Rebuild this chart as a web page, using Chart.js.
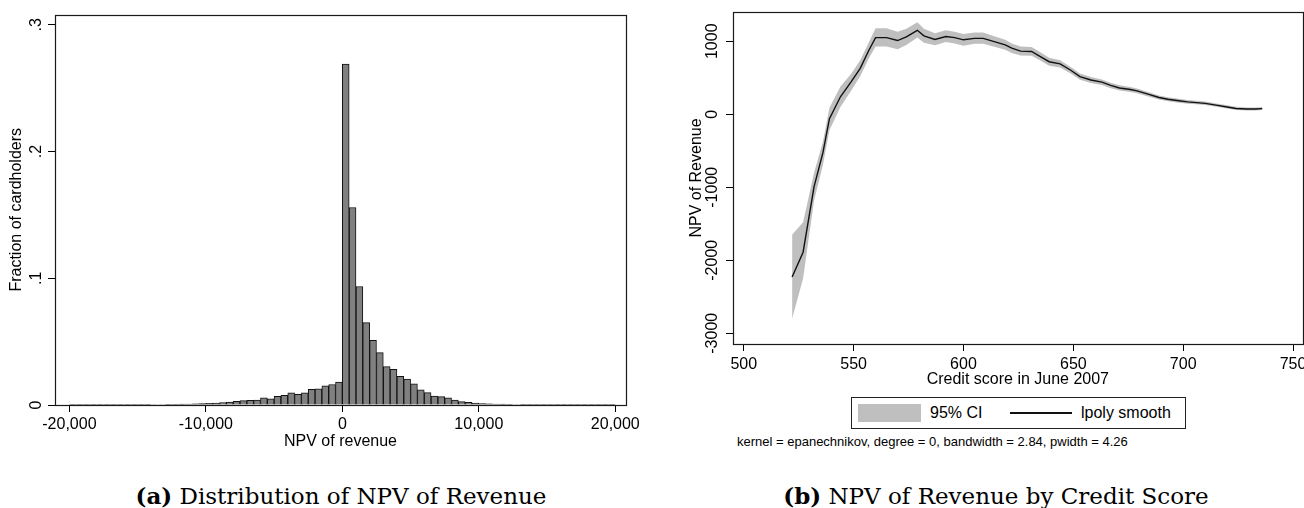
<!DOCTYPE html>
<html>
<head>
<meta charset="utf-8">
<script src="https://cdn.jsdelivr.net/npm/chart.js@4.4.1/dist/chart.umd.min.js"></script>
<style>
  body { margin: 0; width: 1304px; height: 508px; overflow: hidden; background: #fff; position: relative; font-family: 'Liberation Sans', Arial, sans-serif; color: #000; }
  canvas { position: absolute; top: 0; }
  #histCanvas { left: 0; }
  #smoothCanvas { left: 660px; }
  .caption { position: absolute; top: 484px; font-family: 'DejaVu Serif', serif; font-size: 23px; line-height: 24px; white-space: nowrap; transform: translateX(-50%); }
  #legend { position: absolute; left: 851px; top: 397px; width: 335px; height: 32px; box-sizing: border-box; border: 1.5px solid #222; }
  #legend .swatch { position: absolute; left: 6px; top: 6px; width: 63px; height: 18px; background: rgb(191,191,191); }
  #legend .line { position: absolute; left: 158px; top: 14px; width: 62px; height: 1.5px; background: #111; }
  #legend .lbl { position: absolute; top: 6px; font-size: 16px; line-height: 18px; }
  #note { position: absolute; left: 737px; top: 434px; font-size: 13px; line-height: 15px; white-space: nowrap; }
</style>
</head>
<body>
<canvas id="histCanvas" width="652" height="460"></canvas>
<canvas id="smoothCanvas" width="700" height="395"></canvas>

<div id="legend">
  <span class="swatch"></span><span class="lbl" style="left:78px">95% CI</span>
  <span class="line"></span><span class="lbl" style="left:229px">lpoly smooth</span>
</div>
<div id="note">kernel = epanechnikov, degree = 0, bandwidth = 2.84, pwidth = 4.26</div>

<div class="caption" style="left:341px"><b>(a)</b> Distribution of NPV of Revenue</div>
<div class="caption" style="left:996px"><b>(b)</b> NPV of Revenue by Credit Score</div>

<script>
// ヒストグラム: 各ビンの下端 (幅 500)
const binWidth = 500;
const binLow = [
  -20000, -19500, -19000, -18500, -18000, -17500, -17000, -16500, -16000, -15500,
  -15000, -14500, -14000, -13500, -13000, -12500, -12000, -11500, -11000, -10500,
  -10000, -9500, -9000, -8500, -8000, -7500, -7000, -6500, -6000, -5500,
  -5000, -4500, -4000, -3500, -3000, -2500, -2000, -1500, -1000, -500,
  0, 500, 1000, 1500, 2000, 2500, 3000, 3500, 4000, 4500,
  5000, 5500, 6000, 6500, 7000, 7500, 8000, 8500, 9000, 9500,
  10000, 10500, 11000, 11500, 12000, 12500, 13000, 13500, 14000, 14500,
  15000, 15500, 16000, 16500, 17000, 17500, 18000, 18500, 19000, 19500
];
const fraction = [
  0.0001, 0.0001, 0.0001, 0.0001, 0.0001, 0.0001, 0.0001, 0.0001, 0.0002, 0.0002,
  0.0003, 0.0003, 0.0004, 0.0004, 0.0005, 0.0006, 0.0007, 0.0008, 0.0009, 0.0011,
  0.0013, 0.0015, 0.0020, 0.0023, 0.0029, 0.0034, 0.0036, 0.0039, 0.0057, 0.0049,
  0.0068, 0.0076, 0.0096, 0.0084, 0.0096, 0.0123, 0.0128, 0.0151, 0.0162, 0.0180,
  0.2690, 0.1558, 0.0935, 0.0650, 0.0510, 0.0413, 0.0303, 0.0282, 0.0227, 0.0204,
  0.0167, 0.0120, 0.0097, 0.0071, 0.0066, 0.0057, 0.0038, 0.0027, 0.0021, 0.0015,
  0.0012, 0.0010, 0.0008, 0.0007, 0.0005, 0.0004, 0.0003, 0.0003, 0.0002, 0.0002,
  0.0001, 0.0001, 0.0001, 0.0001, 0.0001, 0.0001, 0.0001, 0.0001, 0.0001, 0.0001
];
const histXTicks = [-20000, -10000, 0, 10000, 20000];
const histYTicks = [0, 0.1, 0.2, 0.3];

// 信用スコア別 NPV (lpoly smooth と 95% CI)
const score = [
  522, 527, 532, 536, 539, 544, 549, 553, 557, 560,
  565, 570, 574, 579, 582, 587, 592, 596, 600, 605,
  609, 614, 619, 622, 626, 631, 635, 639, 644, 649,
  653, 658, 663, 667, 671, 676, 679, 684, 689, 693,
  698, 702, 706, 710, 715, 720, 724, 729, 733, 736
];
const npv = [
  -2230, -1890, -990, -530, -60, 240, 450, 630, 880, 1050,
  1050, 1010, 1060, 1150, 1075, 1025, 1065, 1050, 1020, 1040,
  1040, 995, 950, 905, 865, 860, 790, 720, 690, 600,
  515, 470, 440, 395, 360, 340, 320, 275, 230, 205,
  185, 170, 160, 150, 125, 100, 80, 72, 72, 78
];
const ciHigh = [
  -1650, -1480, -800, -380, 90, 380, 560, 740, 990, 1180,
  1180, 1130, 1170, 1260, 1170, 1110, 1150, 1130, 1100, 1120,
  1120, 1070, 1020, 970, 930, 920, 850, 775, 740, 645,
  560, 510, 478, 432, 396, 374, 352, 305, 258, 233,
  212, 194, 184, 174, 146, 122, 102, 92, 92, 98
];
const ciLow = [
  -2800, -2250, -1180, -700, -220, 100, 330, 520, 770, 930,
  930, 890, 950, 1050, 980, 945, 990, 970, 940, 965,
  965, 925, 885, 840, 805, 800, 735, 665, 640, 555,
  472, 430, 402, 358, 326, 306, 288, 245, 202, 177,
  158, 144, 136, 128, 104, 78, 60, 52, 52, 58
];
const scoreTicks = [500, 550, 600, 650, 700, 750];
const npvTicks = [-3000, -2000, -1000, 0, 1000];

Chart.defaults.font.family = "'Liberation Sans', Arial, sans-serif";
Chart.defaults.font.size = 16;
Chart.defaults.color = '#000';

// プロット領域の枠線
const framePlugin = {
  id: 'frame',
  afterDraw(chart) {
    const { ctx, chartArea: a } = chart;
    ctx.save();
    ctx.strokeStyle = '#1a1a1a';
    ctx.lineWidth = 1.2;
    ctx.strokeRect(Math.round(a.left) + 0.5, Math.round(a.top) + 0.5,
      Math.round(a.right - a.left), Math.round(a.bottom - a.top));
    ctx.restore();
  }
};

const tickGrid = { drawOnChartArea: false, tickLength: 7, color: '#000', lineWidth: 1, offset: false };

// 左: NPV of revenue のヒストグラム
new Chart( document.getElementById( 'histCanvas' ), {
  type: 'bar',
  data: {
    datasets: [{
      data: binLow.map( ( b, i ) => ( { x: b + binWidth / 2, y: fraction[i] } ) ),
      backgroundColor: 'rgb(128,128,128)',
      borderColor: '#111',
      borderWidth: 1,
      barPercentage: 1,
      categoryPercentage: 1
    }]
  },
  options: {
    responsive: false,
    animation: false,
    layout: { padding: { left: 0, right: 26, top: 12, bottom: 9 } },
    plugins: { legend: { display: false }, tooltip: { enabled: false } },
    scales: {
      x: {
        type: 'linear', min: -21055, max: 20784, offset: false,
        afterBuildTicks: s => { s.ticks = histXTicks.map( v => ( { value: v } ) ); },
        afterFit: s => { s.height = 46; },
        grid: tickGrid,
        border: { display: false },
        ticks: { padding: 3, maxRotation: 0, callback: v => Number( v ).toLocaleString( 'en-US' ) },
        title: { display: true, text: 'NPV of revenue', padding: { top: 0, bottom: 0 } }
      },
      y: {
        min: 0, max: 0.308,
        afterBuildTicks: s => { s.ticks = histYTicks.map( v => ( { value: v } ) ); },
        afterFit: s => { s.width = 55; },
        grid: tickGrid,
        border: { display: false },
        ticks: { minRotation: 90, maxRotation: 90, crossAlign: 'center', padding: 5,
          callback: v => v === 0 ? '0' : v.toFixed( 1 ).replace( /^0/, '' ) },
        title: { display: true, text: 'Fraction of cardholders', padding: { top: 7, bottom: 0 } }
      }
    }
  },
  plugins: [framePlugin]
});

// 右: 信用スコア別の NPV
new Chart( document.getElementById( 'smoothCanvas' ), {
  type: 'line',
  data: {
    datasets: [
      {
        label: 'lpoly smooth',
        data: score.map( ( s, i ) => ( { x: s, y: npv[i] } ) ),
        borderColor: '#111', borderWidth: 1.4, pointRadius: 0, fill: false, tension: 0
      },
      {
        label: '95% CI',
        data: score.map( ( s, i ) => ( { x: s, y: ciHigh[i] } ) ),
        borderWidth: 0, pointRadius: 0, backgroundColor: 'rgb(191,191,191)', fill: '+1', tension: 0
      },
      {
        label: 'ci low',
        data: score.map( ( s, i ) => ( { x: s, y: ciLow[i] } ) ),
        borderWidth: 0, pointRadius: 0, fill: false, tension: 0
      }
    ]
  },
  options: {
    responsive: false,
    animation: false,
    layout: { padding: { left: 0, right: 57.3, top: 12, bottom: 4 } },
    plugins: { legend: { display: false }, tooltip: { enabled: false } },
    scales: {
      x: {
        type: 'linear', min: 495.1, max: 754.4,
        afterBuildTicks: s => { s.ticks = scoreTicks.map( v => ( { value: v } ) ); },
        afterFit: s => { s.height = 47; },
        grid: tickGrid,
        border: { display: false },
        ticks: { padding: 4, maxRotation: 0, callback: v => String( v ) },
        title: { display: true, text: 'Credit score in June 2007', padding: { top: 0, bottom: 2 } }
      },
      y: {
        type: 'linear', min: -3147, max: 1401,
        afterBuildTicks: s => { s.ticks = npvTicks.map( v => ( { value: v } ) ); },
        afterFit: s => { s.width = 73; },
        grid: tickGrid,
        border: { display: false },
        ticks: { minRotation: 90, maxRotation: 90, crossAlign: 'center', padding: -7, callback: v => String( v ) },
        title: { display: true, text: 'NPV of Revenue', padding: { top: 27, bottom: 0 } }
      }
    }
  },
  plugins: [framePlugin]
});
</script>
</body>
</html>
